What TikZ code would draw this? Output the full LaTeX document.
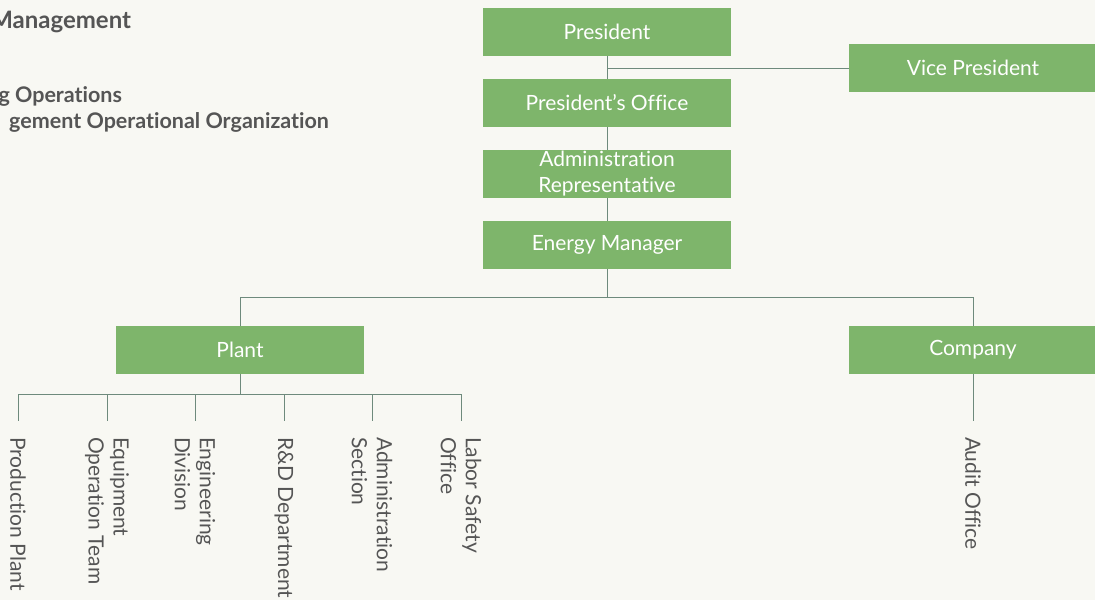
\documentclass[tikz,border=0pt]{standalone}
\usepackage{fontspec}
\setmainfont{Lato}[Ligatures=NoCommon]
\usetikzlibrary{positioning}

\definecolor{boxgreen}{HTML}{7EB56B}
\definecolor{linkgray}{HTML}{6E8A7C}
\definecolor{paper}{HTML}{F8F8F3}
\definecolor{inkgray}{HTML}{555555}

\begin{document}
\begin{tikzpicture}[%
      x=1pt, y=-1pt,
      every node/.style={inner sep=0pt, outer sep=0pt},
      unit/.style={fill=boxgreen, minimum width=248pt, minimum height=48pt,
                   text=white, align=center, font={\fontsize{21}{26}\selectfont}},
      section/.style={rotate=-90, anchor=west, inner xsep=16pt, align=left,
                      text=inkgray, font={\fontsize{21}{25}\selectfont}},
      heading/.style={anchor=east, text=inkgray, font={\bfseries\fontsize{21.5}{24}\selectfont}},
      link/.style={draw=linkgray, line width=1pt}
    ]
    \fill[paper] (0,0) rectangle (1095,600);
    \useasboundingbox (0,0) rectangle (1095,600);

    \node [heading, font={\bfseries\fontsize{24}{28}\selectfont}] (title) at (131,22) {Management};
    \node [heading] (sub one) at (122,96) {g Operations};
    \node [heading] (sub two) at (329,122) {gement Operational Organization};

    \node [unit] (president) at (607,32)  {President};
    \node [unit] (vice)      at (973,68)  {Vice President};
    \node [unit] (office)    at (607,103) {President’s Office};
    \node [unit] (admin rep) at (607,174) {Administration\\Representative};
    \node [unit] (energy)    at (607,245) {Energy Manager};
    \node [unit] (plant)     at (240,350) {Plant};
    \node [unit] (company)   at (973,350) {Company};

    \draw [link] (president) -- (office) -- (admin rep) -- (energy);
    \draw [link] (president.south |- vice.west) -- (vice.west);

    \coordinate (energy bus) at (607,297);
    \draw [link] (energy) -- (energy bus);
    \draw [link] (energy bus) -| (plant);
    \draw [link] (energy bus) -| (company);

    \coordinate (plant bus) at (240,394);
    \draw [link] (plant) -- (plant bus);
    \foreach \x/\name/\txt in {18/prod/Production Plant,
                               107/equip/Equipment\\Operation Team,
                               195/eng/Engineering\\Division,
                               284/rnd/R\&D Department,
                               372/admin/Administration\\Section,
                               461/safety/Labor Safety\\Office} {
      \node [section] (\name) at (\x,421) {\txt};
      \draw [link] (plant bus) -| (\name.west);
    }

    \node [section] (audit) at (973,421) {Audit Office};
    \draw [link] (company) -- (audit.west);
\end{tikzpicture}
\end{document}
